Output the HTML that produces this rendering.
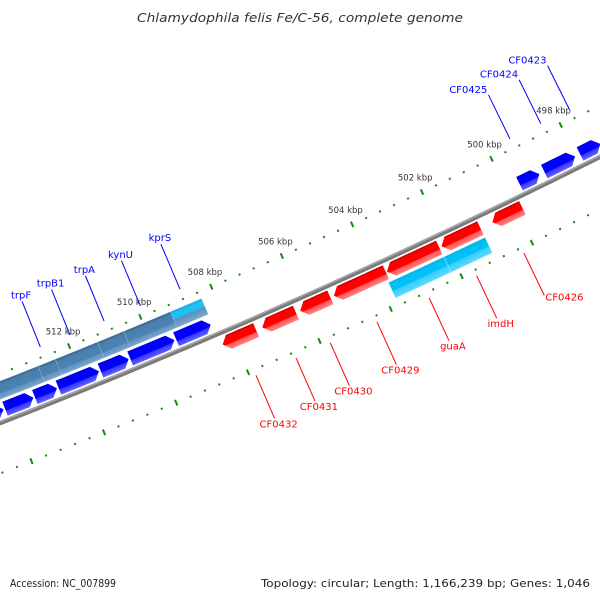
<!DOCTYPE html>
<html><head><meta charset="utf-8"><style>
html,body{margin:0;padding:0;background:#fff;width:600px;height:600px;overflow:hidden}
svg{display:block;overflow:hidden}
</style></head><body>
<svg id="map" width="600" height="600" viewBox="0 0 600 600" xmlns="http://www.w3.org/2000/svg">
<defs id="defs"></defs>
<rect x="0" y="0" width="600" height="600" fill="#fff"/>
<text x="300" y="22" text-anchor="middle" font-family="DejaVu Sans, Liberation Sans, sans-serif" font-style="italic" font-size="12" fill="#333" textLength="326" lengthAdjust="spacingAndGlyphs">Chlamydophila felis Fe/C-56, complete genome</text>
<g id="ticks"></g>
<g id="features"></g>
<g id="labels"></g>
<text x="10" y="587" font-family="DejaVu Sans, Liberation Sans, sans-serif" font-size="11" fill="#222" textLength="106" lengthAdjust="spacingAndGlyphs">Accession: NC_007899</text>
<text x="590" y="587" text-anchor="end" font-family="DejaVu Sans, Liberation Sans, sans-serif" font-size="11" fill="#222" textLength="329" lengthAdjust="spacingAndGlyphs">Topology: circular; Length: 1,166,239 bp; Genes: 1,046</text>
</svg>
<script>
// ---- data ----
const tickStart = 496800;
const tickEnd = 516400;
const tickStep = 400;
const majorStep = 2000;
const tickLabelKbp = [498, 500, 502, 504, 506, 508, 510, 512];
const forwardStarts = [497300, 498030, 499057, 508400, 509420, 510700, 511530, 512700, 513357, 514185, 514850];
const forwardEnds   = [497886, 498915, 499629, 509371, 510657, 511485, 512657, 513314, 514142, 514800, 515700];
const reverseStarts = [499833, 501033, 502204, 503719, 505290, 506261, 507380];
const reverseEnds   = [500690, 502140, 503690, 505190, 506140, 507204, 508318];
const outerBarStarts = [508356, 509234, 510546, 511280, 512462, 512942];
const outerBarEnds   = [509234, 510546, 511280, 512462, 512942, 516500];
const innerBarStarts = [501030, 502200];
const innerBarEnds   = [502200, 503770];
const labelNames  = ["trpF","trpB1","trpA","kynU","kprS","CF0425","CF0424","CF0423","CF0426","imdH","guaA","CF0429","CF0430","CF0431","CF0432"];
const labelBp     = [512702,511871,510913,509890,508771,499343,498448,497617,500302,501644,502986,504457,505767,506726,507844];
const labelStrand = [1,1,1,1,1,1,1,1,-1,-1,-1,-1,-1,-1,-1];

// ---- geometry ----
const NS = "http://www.w3.org/2000/svg";
const CX = -2576, CY = -6191, R = 7098;
function ang(bp){ return (65.78 + (bp - 505000) / 3196) * Math.PI / 180; }
function pt(bp, r){ const a = ang(bp); return [CX + r*Math.cos(a), CY + r*Math.sin(a)]; }
function mk(tag, attrs, parent){ const e = document.createElementNS(NS, tag); for (const k in attrs) e.setAttribute(k, attrs[k]); parent.appendChild(e); return e; }
const defs = document.getElementById('defs');
const GR = R + 80;
function grad(id, stops){
  const g = mk('radialGradient', {id:id, gradientUnits:'userSpaceOnUse', cx:CX, cy:CY, r:GR, fx:CX, fy:CY}, defs);
  stops.forEach(s => mk('stop', {offset:(s[0]/GR).toFixed(7), 'stop-color':s[1]}, g));
  return 'url(#' + id + ')';
}
const fBlue = grad('gBlue', [[R-19,'#0000c8'],[R-17,'#0000ff'],[R-10,'#0000ff'],[R-9,'#3a3aff'],[R-4,'#6060ff']]);
const fRed = grad('gRed', [[R+4,'#b80000'],[R+6,'#ff0000'],[R+13,'#ff0000'],[R+14,'#ff5a5a'],[R+19,'#ff8080']]);
const fSteel = grad('gSteel', [[R-39,'#35618a'],[R-36,'#4a80ae'],[R-28,'#4a82b2'],[R-27,'#5f93c0'],[R-22,'#7aa6cc']]);
const fCyan = grad('gCyan', [[R+22,'#00a8dc'],[R+24,'#00bff5'],[R+31,'#00c0f5'],[R+32,'#38cfff'],[R+39,'#5cd8ff']]);
const fCyanTop = grad('gCyanTop', [[R-39,'#10a8e0'],[R-36,'#22c0f2'],[R-31,'#22c0f2'],[R-30,'#5a92bf'],[R-22,'#7aa6cc']]);

function arcPts(s, e, r){ const out=[]; const n=6; for(let i=0;i<=n;i++){ out.push(pt(s+(e-s)*i/n, r)); } return out; }
function poly(points){ return points.map(p => p[0].toFixed(2)+','+p[1].toFixed(2)).join(' '); }
function barPoints(s, e, r1, r2){ return arcPts(s,e,r1).concat(arcPts(s,e,r2).reverse()); }
function arrowPoints(s, e, r1, r2, headAtStart){
  const hb = 175, rm = (r1+r2)/2;
  if (headAtStart){
    const b = Math.min(s+hb, e);
    return [pt(s, rm)].concat(arcPts(b,e,r1)).concat(arcPts(b,e,r2).reverse());
  } else {
    const b = Math.max(e-hb, s);
    return arcPts(s,b,r1).concat([pt(e, rm)]).concat(arcPts(s,b,r2).reverse());
  }
}

// ---- backbone ----
const feat = document.getElementById('features');
const bb = mk('circle', {cx:CX, cy:CY, r:R, fill:'none', stroke:'#7a7a7a', 'stroke-width':4.5}, feat);


const bbh = mk('circle', {cx:CX, cy:CY, r:R-1.3, fill:'none', stroke:'#a8a8a8', 'stroke-width':1.4}, feat);



// ---- ticks ----
const tg = document.getElementById('ticks');
for (let bp = tickStart; bp <= tickEnd; bp += tickStep){
  const major = (bp % majorStep) === 0;
  [R-46, R+47].forEach((rc) => {
    const h = major ? 3 : 1;
    const a = pt(bp, rc-h), b = pt(bp, rc+h);
    const l = mk('line', {x1:a[0], y1:a[1], x2:b[0], y2:b[1], stroke:'#138a13', 'stroke-width': 2}, tg);
    
    
  });
}
tickLabelKbp.forEach(k => {
  const p = pt(k*1000, R-62);
  const t = mk('text', {x:p[0].toFixed(1), y:(p[1]+3).toFixed(1), 'text-anchor':'middle', 'font-family':'DejaVu Sans, Liberation Sans, sans-serif', 'font-size':'8.5', fill:'#333'}, tg);
  t.textContent = k + ' kbp';
  
  
});

// ---- features ----
outerBarStarts.forEach((s, i) => {
  const p = mk('polygon', {points: poly(barPoints(s, outerBarEnds[i], R-39, R-22)), fill: i===0 ? fCyanTop : fSteel, stroke:'#9cc0dc', 'stroke-width':0.4}, feat);
  
  
});
innerBarStarts.forEach((s, i) => {
  const p = mk('polygon', {points: poly(barPoints(s, innerBarEnds[i], R+22, R+39)), fill: fCyan, stroke:'#bdeeff', 'stroke-width':0.5}, feat);
  
  
});
forwardStarts.forEach((s, i) => {
  const p = mk('polygon', {points: poly(arrowPoints(s, forwardEnds[i], R-19, R-4, true)), fill: fBlue}, feat);
  
  
});
reverseStarts.forEach((s, i) => {
  const p = mk('polygon', {points: poly(arrowPoints(s, reverseEnds[i], R+4, R+19, false)), fill: fRed}, feat);
  
  
});

// ---- labels ----
const lg = document.getElementById('labels');
labelNames.forEach((name, i) => {
  const fwd = labelStrand[i] > 0;
  const col = fwd ? '#0000ff' : '#ff0000';
  const a = pt(labelBp[i], fwd ? R-105 : R+53);
  const b = pt(labelBp[i], fwd ? R-56 : R+100);
  const l = mk('line', {x1:a[0], y1:a[1], x2:b[0], y2:b[1], stroke:col, 'stroke-width':1}, lg);
  
  
  let x, y, anchor;
  if (fwd){
    if (name.startsWith('CF')){ x = a[0]-1; y = a[1]-2; anchor = 'end'; }
    else { x = a[0]-1; y = a[1]-3; anchor = 'middle'; }
  } else {
    if (name === 'CF0426'){ x = b[0]+1; y = b[1]+5; anchor = 'start'; }
    else { x = b[0]+4; y = b[1]+9; anchor = 'middle'; }
  }
  const t = mk('text', {x:x.toFixed(1), y:y.toFixed(1), 'text-anchor':anchor, 'font-family':'DejaVu Sans, Liberation Sans, sans-serif', 'font-size':'10', fill:col}, lg);
  t.textContent = name;
  
  
});
</script>
</body></html>
